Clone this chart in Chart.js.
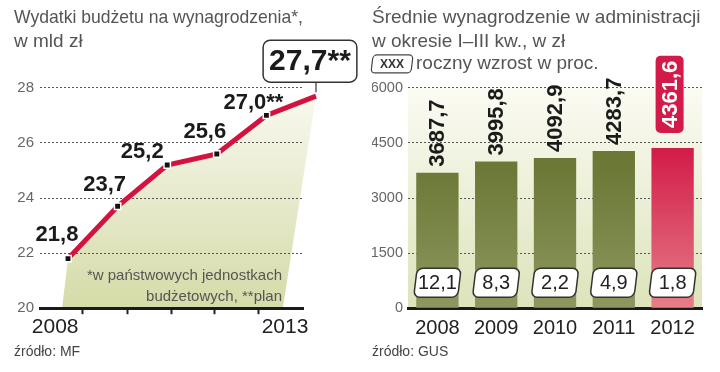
<!DOCTYPE html>
<html>
<head>
<meta charset="utf-8">
<script src="https://cdn.jsdelivr.net/npm/chart.js"></script>
<style>
  html, body { margin: 0; padding: 0; background: #fff; }
  .panel { position: absolute; top: 0; width: 360px; height: 372px; }
  #lewy { left: 0; }
  #prawy { left: 360px; }
</style>
</head>
<body>
<div class="panel" id="lewy"><canvas id="wydatki"></canvas></div>
<div class="panel" id="prawy"><canvas id="placa"></canvas></div>
<script>
// lewy wykres - wydatki budzetu
const lata = [2008, 2009, 2010, 2011, 2012, 2013];
const wydatki = [21.8, 23.7, 25.2, 25.6, 27.0, 27.7];
const wydatkiEtykiety = ['21,8', '23,7', '25,2', '25,6', '27,0**', '27,7**'];
const osXWartosci = [2007.74, 2008.3, 2009.19, 2010.08, 2010.96, 2011.85, 2012.375];
const osXEtykiety = ['2008', '', '', '', '', '', '2013'];
const osYWydatki = [20, 22, 24, 26, 28];

// prawy wykres - srednie wynagrodzenie
const kategorie = ['2008', '2009', '2010', '2011', '2012'];
const placa = [3687.7, 3995.8, 4092.9, 4283.7, 4361.6];
const placaEtykiety = ['3687,7', '3995,8', '4092,9', '4283,7', '4361,6'];
const wzrost = ['12,1', '8,3', '2,2', '4,9', '1,8'];
const osYPlaca = [0, 1500, 3000, 4500, 6000];

const FONT = '"Liberation Sans", Arial, sans-serif';
Chart.defaults.font.family = FONT;

const tytul = (linie) => ({
  display: true,
  align: 'start',
  text: linie,
  color: '#555',
  font: { size: 19, weight: 'normal', lineHeight: 1.26 },
  padding: { top: 6, bottom: 34 }
});
const zrodlo = (tekst) => ({
  display: true,
  position: 'bottom',
  align: 'start',
  text: tekst,
  color: '#444',
  font: { size: 14, weight: 'normal', lineHeight: 1.2 },
  padding: { top: 0, bottom: 0 }
});

// tlo pod linia (trapez)
const wypelnienie = {
  id: 'wypelnienie',
  beforeDraw(chart) {
    const { ctx, scales } = chart;
    const pts = chart.getDatasetMeta(0).data;
    const dol = scales.y.getPixelForValue(20);
    const g = ctx.createLinearGradient(0, pts[pts.length - 1].y, 0, dol);
    g.addColorStop(0, '#f8f8ee');
    g.addColorStop(1, '#d5dba8');
    ctx.save();
    ctx.beginPath();
    ctx.moveTo(scales.x.getPixelForValue(2007.88), dol);
    pts.forEach(p => ctx.lineTo(p.x, p.y));
    ctx.lineTo(scales.x.getPixelForValue(2012.33), dol);
    ctx.closePath();
    ctx.fillStyle = g;
    ctx.fill();
    ctx.restore();
  }
};

const etykietyWydatkow = {
  id: 'etykietyWydatkow',
  afterDatasetsDraw(chart) {
    const { ctx, chartArea } = chart;
    const pts = chart.getDatasetMeta(0).data;
    const przes = [[-11, -24], [-13, -21], [-25, -13], [-12, -22], [-13, -12]];
    ctx.save();
    ctx.fillStyle = '#1b1b1b';
    ctx.textAlign = 'center';
    ctx.textBaseline = 'middle';
    ctx.font = 'bold 22px ' + FONT;
    for (let i = 0; i < pts.length - 1; i++) {
      ctx.fillText(wydatkiEtykiety[i], pts[i].x + przes[i][0], pts[i].y + przes[i][1]);
    }
    // ostatnia wartosc w ramce
    const p = pts[pts.length - 1];
    const t = wydatkiEtykiety[pts.length - 1];
    ctx.font = 'bold 30px ' + FONT;
    const w = ctx.measureText(t).width + 12;
    const h = 42, cx = p.x - 6, by = p.y - 14;
    ctx.beginPath();
    ctx.moveTo(p.x, by);
    ctx.lineTo(p.x, p.y - 4);
    ctx.lineWidth = 1.2;
    ctx.strokeStyle = '#333';
    ctx.stroke();
    ctx.beginPath();
    ctx.roundRect(cx - w / 2, by - h, w, h, 7);
    ctx.fillStyle = '#fff';
    ctx.fill();
    ctx.lineWidth = 1.5;
    ctx.stroke();
    ctx.fillStyle = '#1b1b1b';
    ctx.fillText(t, cx, by - h / 2 + 1);
    // przypis
    ctx.font = '15px ' + FONT;
    ctx.fillStyle = '#555';
    ctx.textAlign = 'right';
    ctx.fillText('*w państwowych jednostkach', chartArea.right - 21, chartArea.bottom - 32);
    ctx.fillText('budżetowych, **plan', chartArea.right - 21, chartArea.bottom - 11);
    ctx.restore();
  }
};

new Chart(document.getElementById('wydatki'), {
  type: 'line',
  data: {
    datasets: [{
      data: lata.map((r, i) => ({ x: r, y: wydatki[i] })),
      borderColor: '#d3133f',
      borderWidth: 5,
      pointStyle: 'rect',
      pointRadius: 4.5,
      pointBackgroundColor: '#111',
      pointBorderColor: '#fff',
      pointBorderWidth: 1.5,
      tension: 0,
      clip: false
    }]
  },
  options: {
    responsive: true,
    maintainAspectRatio: false,
    animation: false,
    layout: { padding: { left: 14, right: 57, top: 0, bottom: 11 } },
    plugins: {
      legend: { display: false },
      tooltip: { enabled: false },
      title: tytul(['Wydatki budżetu na wynagrodzenia*,', 'w mld zł']),
      subtitle: zrodlo('źródło: MF')
    },
    scales: {
      x: {
        type: 'linear',
        min: 2007.435,
        max: 2012.738,
        afterBuildTicks: s => { s.ticks = osXWartosci.map(v => ({ value: v })); },
        afterFit: s => { s.height = 36; },
        ticks: {
          callback: (v, i) => osXEtykiety[i],
          color: '#222',
          font: { size: 21 },
          padding: 0,
          maxRotation: 0,
          autoSkip: false
        },
        grid: {
          drawOnChartArea: false,
          tickLength: 6,
          tickWidth: 2,
          tickColor: c => (osXEtykiety[c.index] ? 'rgba(0,0,0,0)' : '#222')
        },
        border: { color: '#1a1a1a', width: 3 }
      },
      y: {
        min: 20,
        max: 28,
        afterBuildTicks: s => { s.ticks = osYWydatki.map(v => ({ value: v })); },
        afterFit: s => { s.width = 26; },
        ticks: { color: '#666', font: { size: 15 }, padding: 6, callback: v => String(v) },
        grid: { color: '#555', lineWidth: 1, drawTicks: false },
        border: { display: false, dash: [2, 2] }
      }
    }
  },
  plugins: [wypelnienie, etykietyWydatkow]
});

// prawy wykres
const tloObszaru = {
  id: 'tloObszaru',
  beforeDraw(chart) {
    const { ctx, chartArea: a } = chart;
    const g = ctx.createLinearGradient(0, a.top, 0, a.bottom);
    g.addColorStop(0, '#fbfbf3');
    g.addColorStop(1, '#dde3bb');
    ctx.save();
    ctx.fillStyle = g;
    ctx.fillRect(a.left, a.top, a.right - a.left, a.bottom - a.top);
    ctx.restore();
  }
};

const gradientSlupka = (context) => {
  const { chart, dataIndex } = context;
  const a = chart.chartArea;
  if (!a) return '#77833f';
  const g = chart.ctx.createLinearGradient(0, a.top, 0, a.bottom);
  if (dataIndex === placa.length - 1) {
    g.addColorStop(0, '#cf1442');
    g.addColorStop(0.27, '#d21b48');
    g.addColorStop(1, '#e67e88');
  } else {
    g.addColorStop(0, '#66722f');
    g.addColorStop(0.38, '#6d7937');
    g.addColorStop(1, '#8c985f');
  }
  return g;
};

const etykietyPlacy = {
  id: 'etykietyPlacy',
  afterDatasetsDraw(chart) {
    const { ctx, chartArea } = chart;
    const bars = chart.getDatasetMeta(0).data;
    bars.forEach((b, i) => {
      // wartosc pionowo nad slupkiem
      ctx.save();
      ctx.font = 'bold 22px ' + FONT;
      ctx.textAlign = 'left';
      ctx.textBaseline = 'middle';
      if (i === bars.length - 1) {
        const tw = ctx.measureText(placaEtykiety[i]).width;
        ctx.translate(b.x - 3, b.y - 15);
        ctx.rotate(-Math.PI / 2);
        ctx.beginPath();
        ctx.roundRect(0, -14, tw + 10, 28, 5);
        ctx.fillStyle = '#d21b48';
        ctx.fill();
        ctx.fillStyle = '#fff';
        ctx.fillText(placaEtykiety[i], 5, 1);
      } else {
        ctx.translate(b.x, b.y - 6);
        ctx.rotate(-Math.PI / 2);
        ctx.fillStyle = '#1b1b1b';
        ctx.fillText(placaEtykiety[i], 0, 1);
      }
      ctx.restore();

      // roczny wzrost w ramce
      ctx.save();
      const cy = chartArea.bottom - 25.5;
      ctx.translate(b.x, cy);
      ctx.save();
      ctx.transform(1, 0, -0.12, 1, 0, 0);
      ctx.beginPath();
      ctx.roundRect(-22, -14.5, 44, 29, 6);
      ctx.fillStyle = '#fff';
      ctx.fill();
      ctx.lineWidth = 1.5;
      ctx.strokeStyle = '#333';
      ctx.stroke();
      ctx.restore();
      ctx.font = '20px ' + FONT;
      ctx.fillStyle = '#222';
      ctx.textAlign = 'center';
      ctx.textBaseline = 'middle';
      ctx.fillText(wzrost[i], 0, 1);
      ctx.restore();
    });

    // legenda
    const lx = chartArea.left - 36, ly = chartArea.top - 24;
    ctx.save();
    ctx.translate(lx + 20, ly);
    ctx.save();
    ctx.transform(1, 0, -0.12, 1, 0, 0);
    ctx.beginPath();
    ctx.roundRect(-20, -9, 40, 18, 4);
    ctx.lineWidth = 1.2;
    ctx.strokeStyle = '#444';
    ctx.stroke();
    ctx.restore();
    ctx.font = 'bold 12px ' + FONT;
    ctx.fillStyle = '#333';
    ctx.textAlign = 'center';
    ctx.textBaseline = 'middle';
    ctx.fillText('XXX', 0, 1);
    ctx.restore();
    ctx.save();
    ctx.font = '19px ' + FONT;
    ctx.fillStyle = '#555';
    ctx.textAlign = 'left';
    ctx.textBaseline = 'middle';
    ctx.fillText('roczny wzrost w proc.', lx + 44, ly);
    ctx.restore();
  }
};

new Chart(document.getElementById('placa'), {
  type: 'bar',
  data: {
    labels: kategorie,
    datasets: [{
      data: placa,
      backgroundColor: gradientSlupka,
      borderWidth: 0,
      categoryPercentage: 1,
      barPercentage: 0.72
    }]
  },
  options: {
    responsive: true,
    maintainAspectRatio: false,
    animation: false,
    layout: { padding: { left: 12, right: 18, top: 0, bottom: 11 } },
    plugins: {
      legend: { display: false },
      tooltip: { enabled: false },
      title: tytul(['Średnie wynagrodzenie w administracji', 'w okresie I–III kw., w zł']),
      subtitle: zrodlo('źródło: GUS')
    },
    scales: {
      x: {
        afterFit: s => { s.height = 36; },
        ticks: { color: '#222', font: { size: 20 }, padding: 0 },
        grid: { display: false },
        border: { color: '#1a1a1a', width: 3 }
      },
      y: {
        min: 0,
        max: 6000,
        afterBuildTicks: s => { s.ticks = osYPlaca.map(v => ({ value: v })); },
        afterFit: s => { s.width = 36; },
        ticks: { color: '#666', font: { size: 14.5 }, padding: 5, callback: v => String(v) },
        grid: { color: '#555', lineWidth: 1, drawTicks: false },
        border: { display: false, dash: [2, 2] }
      }
    }
  },
  plugins: [tloObszaru, etykietyPlacy]
});
</script>
</body>
</html>
